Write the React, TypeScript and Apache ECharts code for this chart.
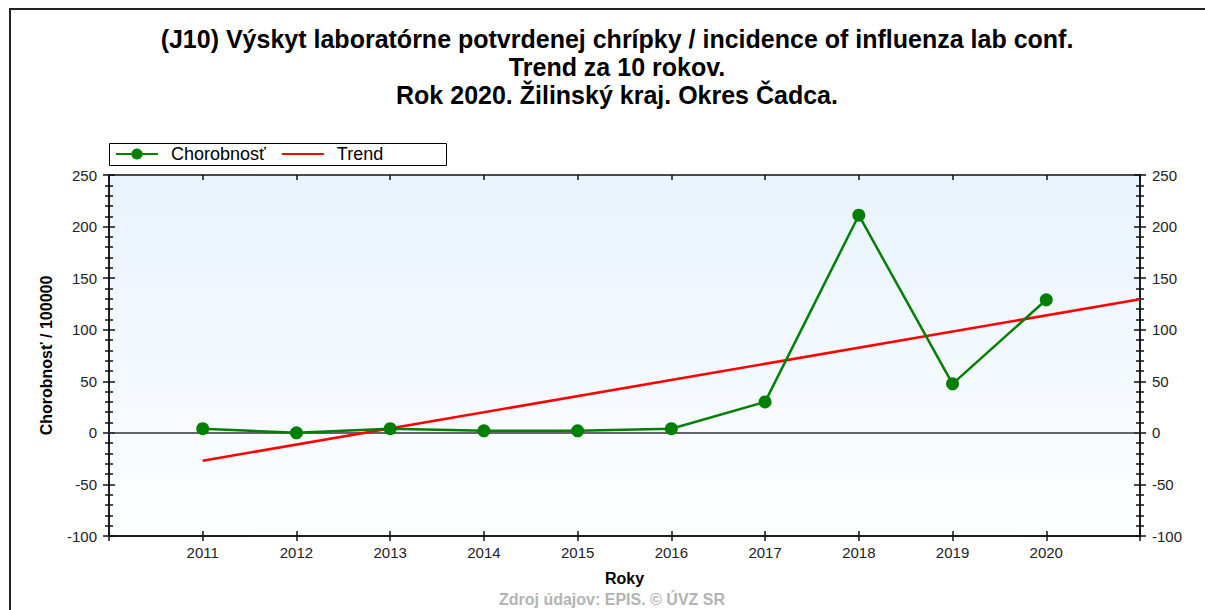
import React, { useEffect, useRef } from "react";
import * as echarts from "echarts";

const years = [2011, 2012, 2013, 2014, 2015, 2016, 2017, 2018, 2019, 2020];
const incidence = [4, 0, 4, 2, 2, 4, 30, 211, 47.5, 129];
const trendYears = [2011, 2021];
const trendValues = [-27, 129.5];
const yTicks = { min: -100, max: 250, step: 50 };
const xRange = { min: 2010, max: 2021 };
const titleLines = [
  "(J10) Výskyt laboratórne potvrdenej chrípky / incidence of influenza lab conf.",
  "Trend za 10 rokov.",
  "Rok 2020. Žilinský kraj. Okres Čadca.",
];
const seriesNames = ["Chorobnosť", "Trend"];
const yName = "Chorobnosť / 100000";
const xName = "Roky";
const footer = "Zdroj údajov: EPIS. © ÚVZ SR";

const FONT = "'Liberation Sans', Arial, sans-serif";

export default function App() {
  const ref = useRef<HTMLDivElement>(null);
  useEffect(() => {
    document.body.style.margin = "0";
    const chart = echarts.init(ref.current!, null, { renderer: "svg" });
    const lineStyle = { color: "#111", width: 1.5 };
    const baseY = {
      type: "value",
      min: yTicks.min,
      max: yTicks.max,
      interval: yTicks.step,
      splitLine: { show: false },
      axisLine: { show: true, onZero: false, lineStyle },
      minorTick: { show: true, splitNumber: 5, length: 4, lineStyle: { color: "#111", width: 1.5 } },
    };
    const baseX = {
      type: "value",
      min: xRange.min,
      max: xRange.max,
      interval: 1,
      splitLine: { show: false },
      axisLine: { show: true, onZero: false, lineStyle },
    };
    chart.setOption({
      animation: false,
      textStyle: { fontFamily: FONT },
      title: {
        text: titleLines.join("\n"),
        left: 612,
        textAlign: "center",
        top: 20,
        textStyle: { fontFamily: FONT, fontSize: 25, fontWeight: "bold", color: "#000", lineHeight: 28 },
      },
      legend: {
        left: 110,
        top: 140,
        itemWidth: 42,
        itemHeight: 14,
        itemGap: 15,
        z: 5,
        data: [
          { name: seriesNames[0] },
          { name: seriesNames[1], itemStyle: { opacity: 0 } },
        ],
        textStyle: { fontFamily: FONT, fontSize: 18, color: "#000", padding: [0, 0, 0, 8] },
      },
      grid: {
        left: 109,
        right: 65,
        top: 175,
        bottom: 74,
        show: true,
        borderWidth: 0,
        backgroundColor: new echarts.graphic.LinearGradient(0, 0, 0, 1, [
          { offset: 0, color: "#e9f3fd" },
          { offset: 1, color: "#fdfeff" },
        ]),
      },
      graphic: [
        {
          type: "rect",
          shape: { x: 10, y: 9, width: 1400, height: 800 },
          style: { fill: "none", stroke: "#222", lineWidth: 2 },
          z: 0,
        },
        {
          type: "rect",
          shape: { x: 109.5, y: 143.5, width: 337, height: 22 },
          style: { fill: "#fff", stroke: "#000", lineWidth: 1 },
          z: 1,
        },
        {
          type: "text",
          x: 612,
          y: 591,
          style: {
            text: footer,
            fill: "#b3b3b3",
            font: `bold 16px ${FONT}`,
            textAlign: "center",
            textVerticalAlign: "top",
          },
        },
      ],
      xAxis: [
        {
          ...baseX,
          position: "bottom",
          axisTick: { show: true, inside: false, length: 5, lineStyle },
          axisLabel: {
            fontSize: 15,
            color: "#222",
            margin: 9,
            fontFamily: FONT,
            formatter: (v: number) => (years.includes(v) ? String(v) : ""),
          },
          name: xName,
          nameLocation: "middle",
          nameGap: 34,
          nameTextStyle: { fontSize: 16, fontWeight: "bold", color: "#000", fontFamily: FONT },
        },
        {
          ...baseX,
          position: "bottom",
          axisTick: { show: true, inside: true, length: 5, lineStyle },
          axisLabel: { show: false },
        },
        {
          ...baseX,
          position: "top",
          axisTick: { show: true, inside: true, length: 5, lineStyle },
          axisLabel: { show: false },
        },
      ],
      yAxis: [
        {
          ...baseY,
          position: "left",
          axisTick: { show: true, inside: false, length: 6, lineStyle },
          axisLabel: { fontSize: 15, color: "#222", margin: 12, fontFamily: FONT },
          name: yName,
          nameLocation: "middle",
          nameGap: 55,
          nameTextStyle: { fontSize: 16, fontWeight: "bold", color: "#000", fontFamily: FONT },
        },
        {
          ...baseY,
          position: "left",
          axisTick: { show: true, inside: true, length: 6, lineStyle },
          axisLabel: { show: false },
        },
        {
          ...baseY,
          position: "right",
          axisTick: { show: true, inside: false, length: 6, lineStyle },
          axisLabel: { fontSize: 15, color: "#222", margin: 12, fontFamily: FONT },
        },
        {
          ...baseY,
          position: "right",
          axisTick: { show: true, inside: true, length: 6, lineStyle },
          axisLabel: { show: false },
        },
      ],
      series: [
        {
          name: seriesNames[0],
          type: "line",
          xAxisIndex: 0,
          yAxisIndex: 0,
          data: years.map((y, i) => [y, incidence[i]]),
          symbol: "circle",
          symbolSize: 13,
          itemStyle: { color: "#008000" },
          lineStyle: { color: "#008000", width: 2.5 },
          z: 4,
          markLine: {
            silent: true,
            symbol: "none",
            label: { show: false },
            lineStyle: { color: "#333", width: 1.5, type: "solid" },
            data: [{ yAxis: 0 }],
            z: 2,
          },
        },
        {
          name: seriesNames[1],
          type: "line",
          xAxisIndex: 0,
          yAxisIndex: 0,
          data: trendYears.map((y, i) => [y, trendValues[i]]),
          symbol: "none",
          itemStyle: { color: "#ff0000" },
          lineStyle: { color: "#ff0000", width: 2.5 },
          z: 3,
        },
      ],
    });
    return () => chart.dispose();
  }, []);
  return <div ref={ref} style={{ width: 1205, height: 610 }} />;
}
